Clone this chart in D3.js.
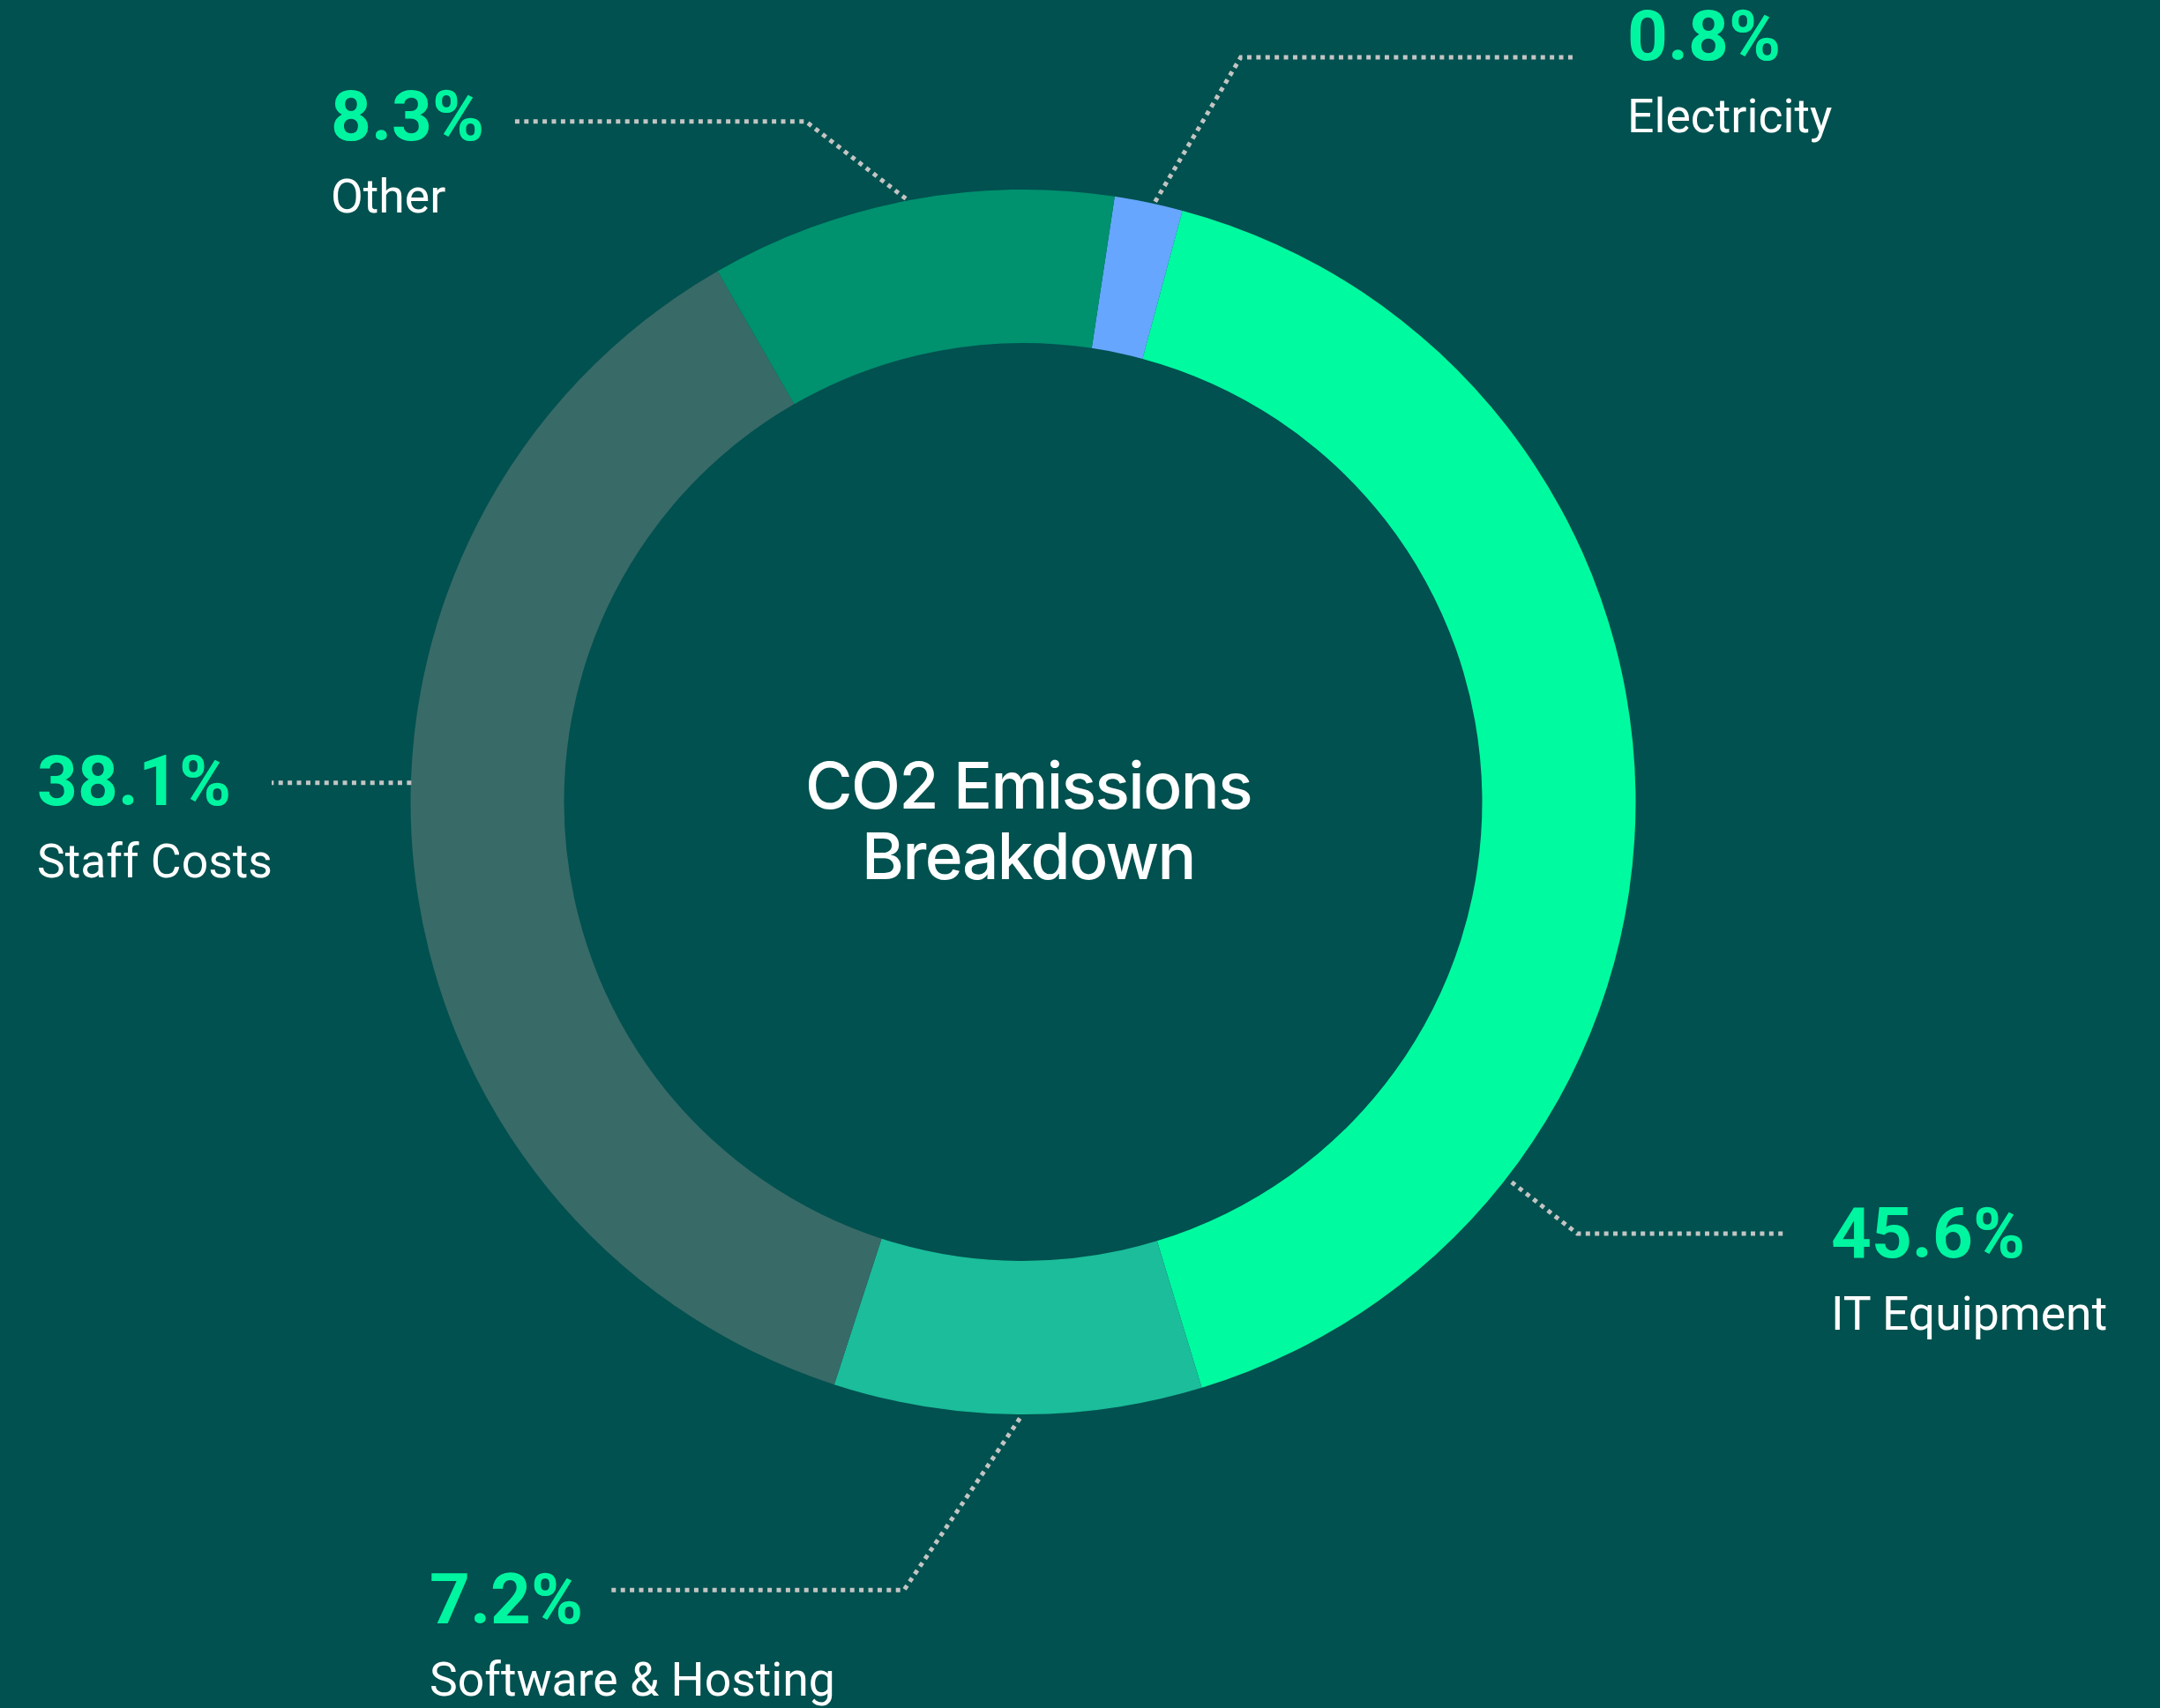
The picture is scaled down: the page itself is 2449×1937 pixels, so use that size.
<!DOCTYPE html>
<html>
<head>
<meta charset="utf-8">
<script src="https://cdn.jsdelivr.net/npm/d3@7/dist/d3.min.js"></script>
<style>
  html, body { margin: 0; padding: 0; background: #00514F; }
  svg { display: block; }
</style>
</head>
<body>
<svg id="chart" width="2449" height="1937"></svg>
<script>
// ---- data ----
const categories = ["Electricity", "IT Equipment", "Software & Hosting", "Staff Costs", "Other"];
const sliceValues = [1.8, 41.1, 9.7, 36.7, 10.7];          // share of the ring as drawn
const percentLabels = ["0.8%", "45.6%", "7.2%", "38.1%", "8.3%"];
const sliceColors = ["#66A6FF", "#00FAA0", "#1BBD9B", "#386A68", "#00916F"];
const titleLines = ["CO2 Emissions", "Breakdown"];

// ---- layout ----
const W = 2449, H = 1937;
const cx = 1160, cy = 909.5;
const outerR = 694.5, innerR = 520.5;
const startDeg = 8.6;

// label layout: leader start angle (deg) & radius, knee, end x, text anchor
const labelLayout = [
  { angle: 12.4,  r: 697, knee: [1406.7, 65],    endX: 1785,  tx: 1845, ty: 68 },
  { angle: 127.9, r: 702, knee: [1788.3, 1399],  endX: 2025,  tx: 2076, ty: 1426 },
  { angle: 180.3, r: 699, knee: [1024.9, 1803.3],endX: 693,   tx: 487,  ty: 1841 },
  { angle: 271.8, r: 694, knee: null,            endX: 308,   tx: 42,   ty: 913 },
  { angle: 349.0, r: 697, knee: [913.6, 137.7],  endX: 581,   tx: 375,  ty: 159 }
];

const svg = d3.select("#chart");
svg.append("rect").attr("width", W).attr("height", H).attr("fill", "#00514F");

const rad = d => d * Math.PI / 180;
const pie = d3.pie().sort(null).value(d => d)
  .startAngle(rad(startDeg)).endAngle(rad(startDeg + 360));
const arc = d3.arc().innerRadius(innerR).outerRadius(outerR);

const g = svg.append("g").attr("transform", `translate(${cx},${cy})`);
g.selectAll("path.slice")
  .data(pie(sliceValues))
  .join("path")
  .attr("class", "slice")
  .attr("d", arc)
  .attr("fill", (d, i) => sliceColors[i]);

// leader lines and labels
const line = d3.line();
labelLayout.forEach((L, i) => {
  const a = rad(L.angle);
  const start = [cx + L.r * Math.sin(a), cy - L.r * Math.cos(a)];
  const pts = [start];
  let y = start[1];
  if (L.knee) { pts.push(L.knee); y = L.knee[1]; }
  pts.push([L.endX, y]);
  svg.append("path")
    .attr("d", line(pts))
    .attr("fill", "none")
    .attr("stroke", "#C4C4C4")
    .attr("stroke-width", 5)
    .attr("stroke-dasharray", "5 5.4")
    .attr("stroke-linejoin", "miter");

  svg.append("text")
    .attr("x", L.tx).attr("y", L.ty)
    .attr("font-family", "Roboto")
    .attr("font-weight", 700)
    .attr("font-size", 80)
    .attr("fill", "#00F5A0")
    .text(percentLabels[i]);
  svg.append("text")
    .attr("x", L.tx).attr("y", L.ty + 82)
    .attr("font-family", "Roboto")
    .attr("font-weight", 400)
    .attr("font-size", 53.5)
    .attr("fill", "#FFFFFF")
    .text(categories[i]);
});

// center title
const title = svg.append("text")
  .attr("text-anchor", "middle")
  .attr("font-family", "Inter")
  .attr("font-weight", 500)
  .attr("font-size", 73)
  .attr("letter-spacing", -1.5)
  .attr("fill", "#FFFFFF");
titleLines.forEach((t, i) => {
  title.append("tspan").attr("x", 1166).attr("y", 917 + i * 80).text(t);
});
</script>
</body>
</html>
